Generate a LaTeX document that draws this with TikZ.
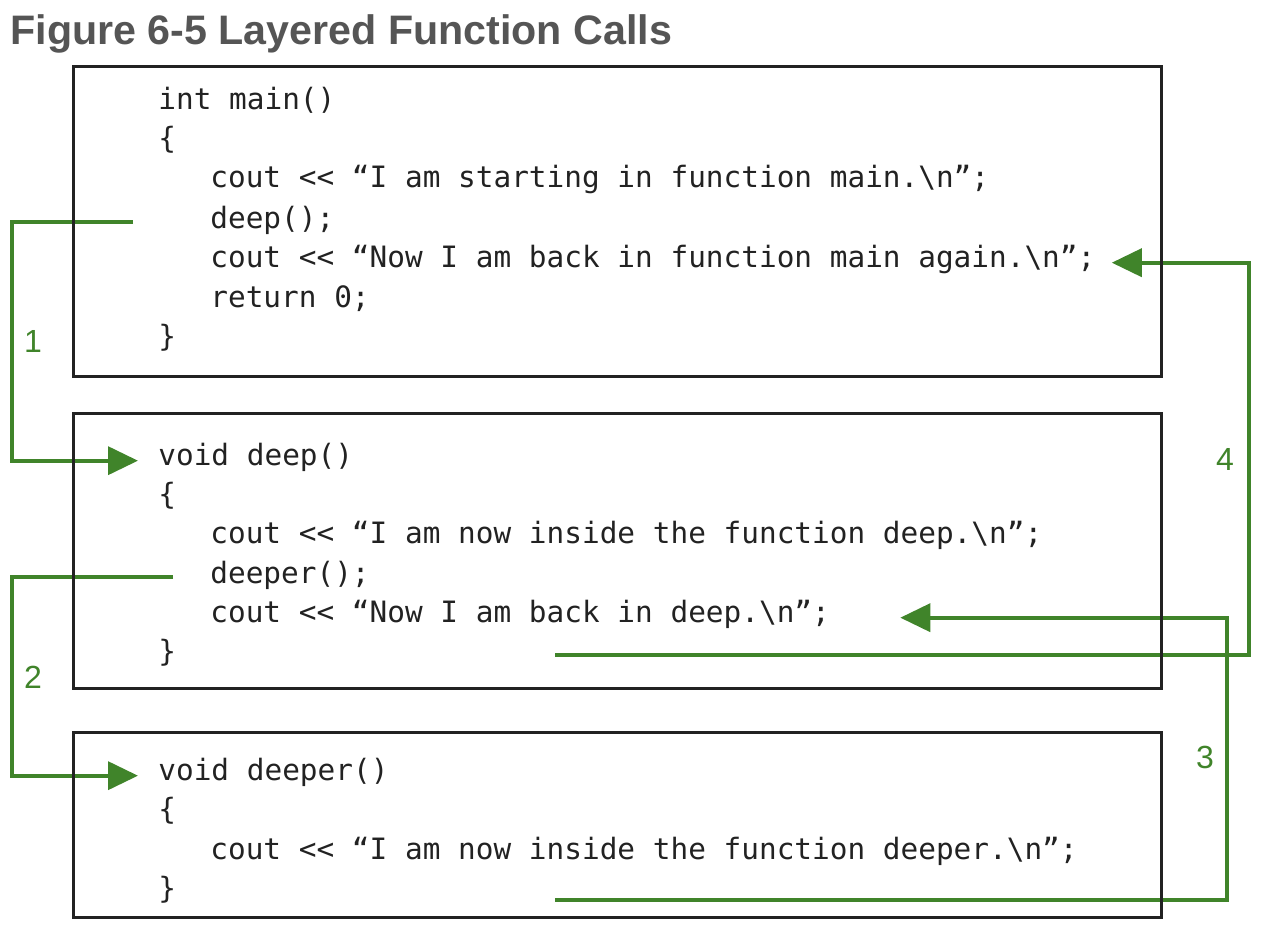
\documentclass[tikz,border=0pt]{standalone}
\usepackage{fontspec}
\usetikzlibrary{arrows.meta}
\newfontfamily\codefont{DejaVu Sans Mono}[Ligatures=TeXOff]
\newfontfamily\labelfont{Liberation Sans}
\definecolor{callgreen}{RGB}{64,132,42}
\definecolor{boxblack}{RGB}{34,34,34}
\definecolor{titlegray}{RGB}{85,85,85}
\tikzset{
    every node/.style={inner sep=0pt, anchor=base west}
}
\tikzset{
    codeline/.style={font=\codefont\fontsize{14.7pt}{14.7pt}\selectfont,
    	text=boxblack},
    codebox/.style={draw=boxblack, line width=1.5pt},
    flow/.style={draw=callgreen, line width=1.9pt,
    	-{Triangle[length=15pt,width=14pt]}},
    steplabel/.style={anchor=center, text=callgreen,
    	font=\labelfont\fontsize{16pt}{16pt}\selectfont}
}

\begin{document}
\begin{tikzpicture}[x=0.5pt, y=-0.5pt]
  \useasboundingbox (0,0) rectangle (1265,931);
  \node (title) [text=titlegray, font=\labelfont\bfseries\fontsize{20.6pt}{20.6pt}\selectfont]
    at (10,45) {Figure 6-5 Layered Function Calls};

  % main
  \node (mainhead) [codeline] at (158,110) {int main()};
  \node (mainopen) [codeline] at (158,149) {\{};
  \node (mainstart) [codeline] at (210,188) {cout << “I am starting in function main.\textbackslash n”;};
  \node (maincall) [codeline] at (210,228) {deep();};
  \node (mainback) [codeline] at (210,267) {cout << “Now I am back in function main again.\textbackslash n”;};
  \node (mainret) [codeline] at (210,307) {return 0;};
  \node (mainclose) [codeline] at (158,346) {\}};

  % deep
  \node (deephead) [codeline] at (158,465) {void deep()};
  \node (deepopen) [codeline] at (158,504) {\{};
  \node (deepstart) [codeline] at (210,543) {cout << “I am now inside the function deep.\textbackslash n”;};
  \node (deepcall) [codeline] at (210,583) {deeper();};
  \node (deepback) [codeline] at (210,622) {cout << “Now I am back in deep.\textbackslash n”;};
  \node (deepclose) [codeline] at (158,661) {\}};

  % deeper
  \node (deeperhead) [codeline] at (158,780) {void deeper()};
  \node (deeperopen) [codeline] at (158,819) {\{};
  \node (deeperstart) [codeline] at (210,859) {cout << “I am now inside the function deeper.\textbackslash n”;};
  \node (deeperclose) [codeline] at (158,898) {\}};

  \coordinate (go1) at (133,222);
  \coordinate (go2) at (173,577);
  \coordinate (go3) at (555,900);
  \coordinate (go4) at (555,655);

  \draw[flow] (go1) -- ++(-121,0) |- ([xshift=-10pt]deephead.mid west);
  \draw[flow] (go2) -- ++(-161,0) |- ([xshift=-10pt]deeperhead.mid west);
  \draw[flow] (go3) -- ++(672,0) |- ([xshift=35pt]deepback.mid east);
  \draw[flow] (go4) -- ++(694,0) |- ([xshift=8pt]mainback.mid east);

  \node (n1) [steplabel] at (33,341) {1};
  \node (n2) [steplabel] at (33,677) {2};
  \node (n3) [steplabel] at (1205,757) {3};
  \node (n4) [steplabel] at (1225,459) {4};

  \draw[codebox] (73,67) rectangle (1161,376);
  \draw[codebox] (73,413) rectangle (1161,688);
  \draw[codebox] (73,732) rectangle (1161,917);
\end{tikzpicture}
\end{document}
